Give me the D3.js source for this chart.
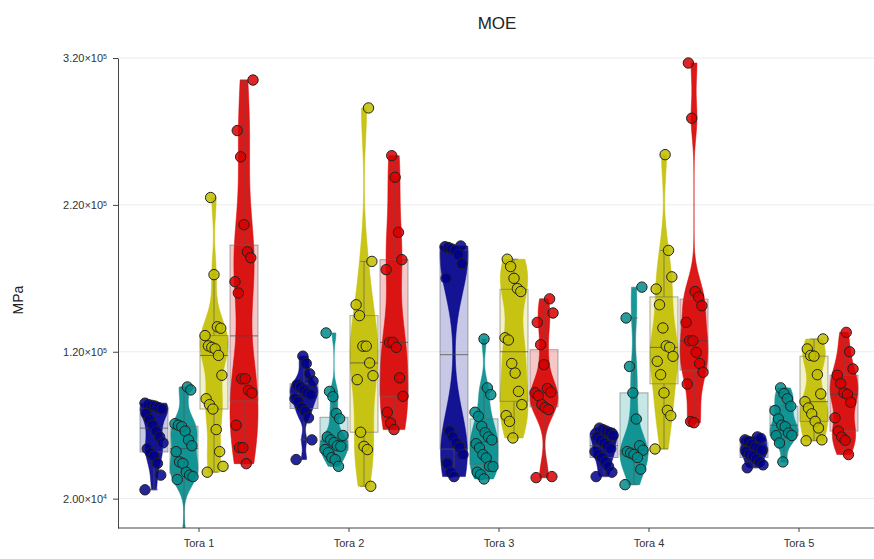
<!DOCTYPE html>
<html><head><meta charset="utf-8">
<script src="https://cdn.jsdelivr.net/npm/d3@7"></script>
<style>body{margin:0;background:#fff} svg{display:block} text{font-family:"Liberation Sans",Arial,sans-serif}</style>
</head><body><svg id="c" width="874" height="559"></svg>
<script>
const categories = ["Tora 1","Tora 2","Tora 3","Tora 4","Tora 5"];
const seriesNames = ["A","B","C","D"];
const seriesColors = ["#00008b","#008b8b","#c2be00","#d80000"];
// values in thousands of MPa, one array per Tora
const seriesA = [
  [85,84,83.5,83,82,81,78,74,70,66,62,58,54,51,49,44,36,26],
  [117,112,105,100,97.6,96,94,92,90.8,88,86,82,79.4,75,60,46.6],
  [192,191.5,191,190,189,186,180,170,66,62,58,55,50,44,38,35],
  [68,67,66,65,63,62,60,58,56,54,52,50,48,45,42,38,35],
  [62,61,60,59,57,55,54,53,52,50,49,47,45,43,41]
];
const seriesB = [
  [96,94,71,70,69,66,60,56,52,45,44,38,36,35,33,-10],
  [132.8,93,89.4,78,74.5,63,62,60,58.2,56,55.6,53.4,51.3,47.9,46.6,42],
  [128.7,95.4,90.8,78.8,76,69.2,64.9,62,60,57.4,54.5,50,47.7,42,41.8,38,36.3,33.4],
  [164,143,110,92,74.2,56,53,52,51,50,48,40,29.5],
  [95.4,91.5,88,82.9,80,74.3,70,69,64.7,63,62.9,57.9,45]
];
const seriesC = [
  [225,172.5,137,136,131,124,123,122,117.5,104,88,84,81,67,52,42,38],
  [286,181.5,152,144.6,123.8,123.8,112.4,103.7,101,65.2,55.6,53.4,28.4],
  [183,178,170,163,161,129.5,128,112,105.5,93,84,76.5,72.6,61.3],
  [254.2,189,171,162.7,152,136.2,124,123,116.9,113.5,104.4,92,80.1,76.5,53.8],
  [128.7,121.9,117.5,117,104.4,91.3,86,81.7,77.7,72.6,68.1,60,59.4]
];
const seriesD = [
  [305,270.6,252.7,206.5,188,184,167.7,160,101.6,101.6,93.7,92,70,54.7,54.7,43.8],
  [253.5,238.8,201.3,182.7,175.9,126.4,126.4,123,102.2,89.7,78.8,71.5,67],
  [156,146.4,140,124.8,111.2,95,92.5,92.1,90,84,82,80.6,35,34.3],
  [316.6,279,161,157.3,151.3,140,127.5,127.5,119.6,112,106,98,72.5,71.7],
  [133.2,120,108.3,104,98.3,92,91,85.6,75,66,62,59.7,50]
];
const yTicks = [20000,120000,220000,320000];
const yDomain = [0,320000];

const allSeries = [seriesA,seriesB,seriesC,seriesD].map(s=>s.map(a=>a.map(v=>v*1000)));

const svg = d3.select("#c");
const x = d3.scaleBand().domain(categories).range([124,874]);
const xs = d3.scaleBand().domain(seriesNames).range([15,135]);
const y = d3.scaleLinear().domain(yDomain).range([528,58]);
const X0 = 118, X1 = 874;

// grid
svg.append("g").selectAll("line").data(yTicks).join("line")
  .attr("x1",X0).attr("x2",X1).attr("y1",d=>y(d)).attr("y2",d=>y(d))
  .attr("stroke","#ebebeb").attr("stroke-width",1);

svg.append("defs").append("clipPath").attr("id","clip")
  .append("rect").attr("x",X0).attr("y",40).attr("width",X1-X0).attr("height",528-40);

const plot = svg.append("g").attr("clip-path","url(#clip)");
const HW = 14;

function silverman(v){
  const n=v.length, sd=d3.deviation(v);
  const s=[...v].sort(d3.ascending);
  const iqr=d3.quantile(s,0.75)-d3.quantile(s,0.25);
  const m = Math.min(sd, iqr/1.349) || sd;
  return 1.059*m*Math.pow(n,-0.2);
}

allSeries.forEach((ser,si)=>{
  const col = seriesColors[si];
  ser.forEach((vals,ci)=>{
    const cx = x(categories[ci]) + xs(seriesNames[si]) + xs.bandwidth()/2;
    const s = [...vals].sort(d3.ascending);
    const lo = s[0], hi = s[s.length-1];
    const bw = silverman(s)*0.6;
    const N=80, dens=[];
    for(let i=0;i<=N;i++){
      const t = lo+(hi-lo)*i/N; let d=0;
      for(const v of s){const z=(t-v)/bw; d+=Math.exp(-0.5*z*z);}
      dens.push([t,d]);
    }
    const mx = d3.max(dens,d=>d[1]);
    const area = d3.area().curve(d3.curveBasis)
      .x0(d=>cx-HW*d[1]/mx).x1(d=>cx+HW*d[1]/mx).y(d=>y(d[0]));
    plot.append("path").attr("d",area(dens)).attr("fill",col).attr("fill-opacity",0.9)
      .attr("stroke",col).attr("stroke-width",0.5);

    const q1=d3.quantile(s,0.25), q2=d3.quantile(s,0.5), q3=d3.quantile(s,0.75);
    const iqr=q3-q1;
    const wHi = d3.max(s.filter(v=>v<=q3+1.5*iqr));
    const wLo = d3.min(s.filter(v=>v>=q1-1.5*iqr));
    const g = plot.append("g");
    g.append("line").attr("x1",cx).attr("x2",cx).attr("y1",y(q3)).attr("y2",y(wHi))
      .attr("stroke","#555").attr("stroke-opacity",0.6).attr("stroke-width",1);
    g.append("line").attr("x1",cx).attr("x2",cx).attr("y1",y(q1)).attr("y2",y(wLo))
      .attr("stroke","#555").attr("stroke-opacity",0.6).attr("stroke-width",1);
    [wHi,wLo].forEach(w=>g.append("line").attr("x1",cx-4).attr("x2",cx+4).attr("y1",y(w)).attr("y2",y(w))
      .attr("stroke","#555").attr("stroke-opacity",0.6).attr("stroke-width",1));
    g.append("rect").attr("x",cx-HW).attr("width",2*HW).attr("y",y(q3)).attr("height",y(q1)-y(q3))
      .attr("fill",col).attr("fill-opacity",0.22).attr("stroke","#666").attr("stroke-opacity",0.55).attr("stroke-width",1);
    g.append("line").attr("x1",cx-HW).attr("x2",cx+HW).attr("y1",y(q2)).attr("y2",y(q2))
      .attr("stroke","#444").attr("stroke-opacity",0.7).attr("stroke-width",1);

    plot.append("g").selectAll("circle").data(vals).join("circle")
      .attr("cx",(d,i)=>cx + (((i*37+si*11+ci*7)%17)/16-0.5)*18)
      .attr("cy",d=>y(d)).attr("r",5.2)
      .attr("fill",col).attr("fill-opacity",0.85).attr("stroke","#222").attr("stroke-width",1);
  });
});

// axes
const ya = svg.append("g").attr("transform",`translate(${X0},0)`)
  .call(d3.axisLeft(y).tickValues(yTicks).tickSize(5).tickSizeOuter(0).tickFormat(""));
ya.select(".domain").attr("stroke","#444");
ya.selectAll(".tick line").attr("stroke","#444");
ya.selectAll(".tick").each(function(d){
  const [m,e] = d.toExponential(2).split("e");
  const t = d3.select(this).append("text").attr("x",-11).attr("dy","0.35em")
    .attr("text-anchor","end").attr("fill","#333").attr("font-size",11);
  t.append("tspan").text(m+"×10");
  t.append("tspan").text(String(+e)).attr("font-size",7).attr("dy","-0.5em");
});

const xa = svg.append("g").attr("transform","translate(0,528)")
  .call(d3.axisBottom(x).tickSize(4).tickSizeOuter(0));
xa.select(".domain").remove();
xa.selectAll(".tick line").attr("stroke","#444");
xa.selectAll(".tick text").attr("font-size",11).attr("fill","#333")
  .attr("font-family","'Liberation Sans',Arial,sans-serif").attr("dy","1.1em");
svg.append("line").attr("x1",X0).attr("x2",X1).attr("y1",528).attr("y2",528).attr("stroke","#444");

svg.append("text").attr("x",497).attr("y",29).attr("text-anchor","middle")
  .attr("font-size",17).attr("fill","#222").text("MOE");
svg.append("text").attr("transform","translate(23,300) rotate(-90)").attr("text-anchor","middle")
  .attr("font-size",14).attr("fill","#222").text("MPa");
</script></body></html>
